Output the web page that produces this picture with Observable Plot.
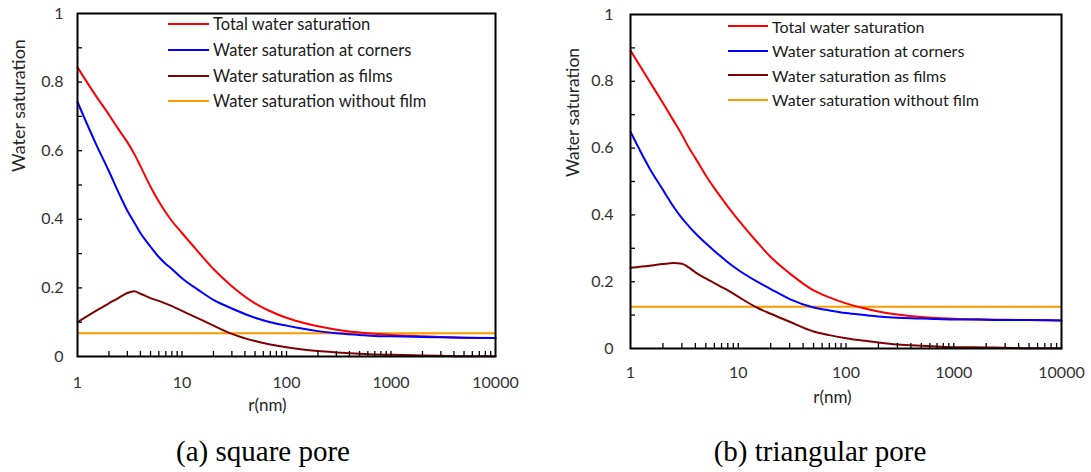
<!DOCTYPE html>
<html>
<head>
<meta charset="utf-8">
<script src="https://cdn.jsdelivr.net/npm/d3@7"></script>
<script src="https://cdn.jsdelivr.net/npm/@observablehq/plot@0.6"></script>
<style>
  html, body { margin: 0; padding: 0; background: #fff; }
  #fig { position: relative; width: 1091px; height: 472px; overflow: hidden; font-family: Lato, sans-serif; }
  .panel { position: absolute; top: 0; }
  .legend { position: absolute; color: #1a1a1a; }
  .legend .row { position: absolute; left: 0; height: 20px; display: flex; align-items: center; white-space: nowrap; }
  .legend .swatch { height: 2px; }
  .caption { position: absolute; font-family: "Liberation Serif", "Times New Roman", serif; font-size: 29px; line-height: 29px; color: #000; transform: translateX(-50%); white-space: nowrap; }
</style>
</head>
<body>
<div id="fig"></div>
<script>
// Pore radius (nm) at which the saturations are sampled
const radius = [1, 1.5, 2, 2.5, 3, 3.5, 4, 5, 6, 7, 8, 10, 15, 20, 30, 50, 70, 100, 150, 200, 300, 500, 700, 1000, 2000, 3000, 5000, 10000];

// (a) square pore
const squareTotal   = [0.843, 0.76, 0.705, 0.66, 0.625, 0.59, 0.555, 0.495, 0.452, 0.42, 0.395, 0.36, 0.298, 0.255, 0.205, 0.155, 0.132, 0.113, 0.097, 0.088, 0.078, 0.07, 0.066, 0.063, 0.059, 0.057, 0.055, 0.054];
const squareCorners = [0.742, 0.62, 0.54, 0.475, 0.425, 0.39, 0.36, 0.32, 0.29, 0.27, 0.255, 0.228, 0.19, 0.165, 0.14, 0.113, 0.1, 0.09, 0.08, 0.074, 0.068, 0.063, 0.06, 0.059, 0.057, 0.056, 0.055, 0.054];
const squareFilms   = [0.1, 0.133, 0.155, 0.172, 0.185, 0.19, 0.183, 0.17, 0.162, 0.154, 0.147, 0.133, 0.108, 0.09, 0.066, 0.045, 0.035, 0.027, 0.02, 0.016, 0.012, 0.008, 0.006, 0.005, 0.003, 0.002, 0.001, 0.001];
const squareNoFilm  = 0.068;

// (b) triangular pore
const triTotal   = [0.892, 0.8, 0.735, 0.683, 0.64, 0.6, 0.57, 0.518, 0.48, 0.45, 0.425, 0.385, 0.318, 0.274, 0.225, 0.174, 0.153, 0.135, 0.12, 0.111, 0.102, 0.094, 0.091, 0.089, 0.087, 0.086, 0.085, 0.084];
const triCorners = [0.649, 0.54, 0.475, 0.425, 0.39, 0.365, 0.345, 0.315, 0.292, 0.274, 0.258, 0.235, 0.2, 0.178, 0.148, 0.123, 0.114, 0.106, 0.1, 0.096, 0.092, 0.09, 0.088, 0.087, 0.086, 0.085, 0.085, 0.084];
const triFilms   = [0.242, 0.248, 0.253, 0.256, 0.254, 0.242, 0.228, 0.21, 0.196, 0.184, 0.174, 0.155, 0.122, 0.104, 0.08, 0.051, 0.04, 0.031, 0.023, 0.018, 0.012, 0.008, 0.006, 0.004, 0.003, 0.002, 0.001, 0.001];
const triNoFilm  = 0.125;

const seriesNames  = ["Total water saturation", "Water saturation at corners", "Water saturation as films", "Water saturation without film"];
const seriesColors = ["#ff0000", "#0000ff", "#800000", "#ff9900"];

// Axis ticks
const xLabels = [1, 10, 100, 1000, 10000];
const xMinor  = [2, 3, 4, 5, 6, 7, 8, 9, 10, 20, 30, 40, 50, 60, 70, 80, 90, 100, 200, 300, 400, 500, 600, 700, 800, 900, 1000, 2000, 3000, 4000, 5000, 6000, 7000, 8000, 9000];
const yLabels = [0, 0.2, 0.4, 0.6, 0.8, 1];
const yMinor  = [0.1, 0.2, 0.3, 0.4, 0.5, 0.6, 0.7, 0.8, 0.9];

const xTitle = "r(nm)";
const yTitle = "Water saturation";
const captions = ["(a) square pore", "(b) triangular pore"];

function panel(series, noFilm, g) {
  const rows = radius.flatMap((r, i) => series.map((vals, k) => ({r, v: vals[i], s: seriesNames[k]})));
  const plotW = g.width - g.marginLeft - g.marginRight;
  const plotH = g.height - g.marginTop - g.marginBottom;
  return Plot.plot({
    width: g.width, height: g.height,
    marginLeft: g.marginLeft, marginRight: g.marginRight, marginTop: g.marginTop, marginBottom: g.marginBottom,
    style: {fontFamily: "Lato, sans-serif", fontSize: "16px", color: "#333", background: "transparent", overflow: "visible"},
    x: {type: "log", domain: [1, 10000]},
    y: {domain: [0, 1]},
    color: {domain: seriesNames, range: seriesColors},
    marks: [
      Plot.ruleY([noFilm], {y: d => d, stroke: seriesColors[3], strokeWidth: 2}),
      Plot.line(rows, {x: "r", y: "v", z: "s", stroke: "s", strokeWidth: 2, curve: "monotone-x"}),
      Plot.tickX(xMinor, {x: d => d, stroke: "black", strokeWidth: 1.3, insetTop: plotH - 5}),
      Plot.tickY(yMinor, {y: d => d, stroke: "black", strokeWidth: 1.3, insetRight: plotW - 5}),
      Plot.frame({stroke: "black", strokeWidth: 2}),
      Plot.axisX({ticks: xLabels, tickSize: 0, tickPadding: g.xPad, tickFormat: d => String(d), label: null}),
      Plot.axisY({ticks: yLabels, tickSize: 0, tickPadding: g.yPad, tickFormat: d => String(d), label: null}),
      Plot.text([yTitle], {text: d => d, frameAnchor: "top-left", textAnchor: "middle", lineAnchor: "middle", dx: g.yTitleDx, dy: g.yTitleDy, rotate: -90, fontSize: g.yTitleSize, fill: "#262626"}),
      Plot.text([xTitle], {text: d => d, frameAnchor: "bottom", textAnchor: "middle", lineAnchor: "middle", dx: g.xTitleDx, dy: g.xTitleDy, fontSize: 17, fill: "#262626"})
    ]
  });
}

function legend(left, tops, swatchW, gap, fontSize) {
  const box = document.createElement("div");
  box.className = "legend";
  box.style.left = left + "px";
  box.style.top = "0px";
  box.style.fontSize = fontSize + "px";
  seriesNames.forEach((name, k) => {
    const row = document.createElement("div");
    row.className = "row";
    row.style.top = (tops[k] - 10) + "px";
    const sw = document.createElement("div");
    sw.className = "swatch";
    sw.style.width = swatchW + "px";
    sw.style.marginRight = gap + "px";
    sw.style.background = seriesColors[k];
    const tx = document.createElement("span");
    tx.textContent = name;
    row.append(sw, tx);
    box.append(row);
  });
  return box;
}

const fig = document.getElementById("fig");

const left = panel([squareTotal, squareCorners, squareFilms], squareNoFilm, {
  width: 540, height: 420, marginLeft: 77, marginRight: 45, marginTop: 13, marginBottom: 64,
  xPad: 20, yPad: 14, yTitleDx: -58, yTitleDy: 92, yTitleSize: 18, xTitleDx: -19, xTitleDy: 49
});
left.classList.add("panel");
left.style.left = "0px";
fig.append(left);

const right = panel([triTotal, triCorners, triFilms], triNoFilm, {
  width: 551, height: 420, marginLeft: 90, marginRight: 30, marginTop: 14, marginBottom: 72,
  xPad: 18, yPad: 17, yTitleDx: -57, yTitleDy: 98, yTitleSize: 17.5, xTitleDx: -13.5, xTitleDy: 49
});
right.classList.add("panel");
right.style.left = "540px";
fig.append(right);

fig.append(legend(168, [24, 50, 76, 101], 41, 4, 16.5));
fig.append(legend(728, [26, 50.5, 75, 99.5], 40, 4, 16));

[[263, captions[0]], [820, captions[1]]].forEach(([cx, t]) => {
  const c = document.createElement("div");
  c.className = "caption";
  c.style.left = cx + "px";
  c.style.top = "437px";
  c.textContent = t;
  fig.append(c);
});
</script>
</body>
</html>
